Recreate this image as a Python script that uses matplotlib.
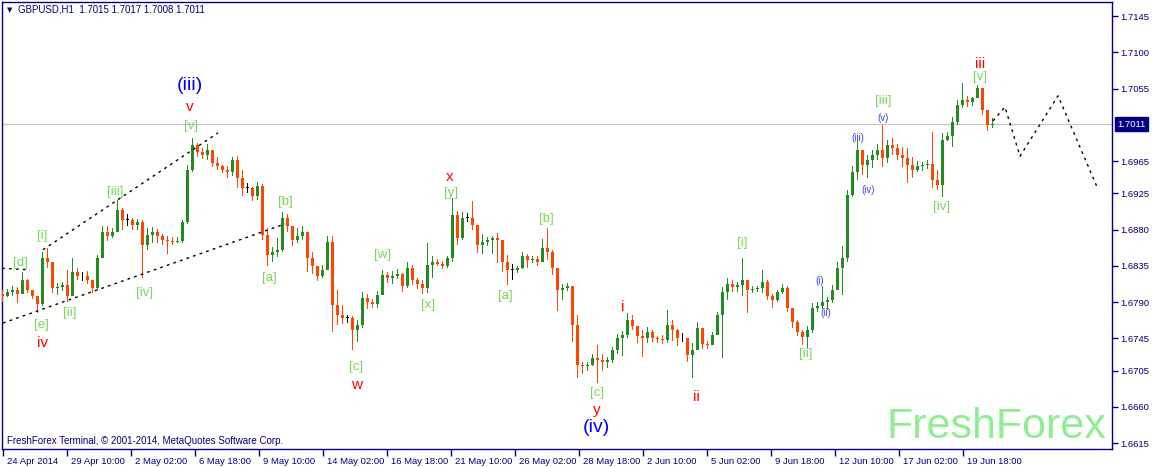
import numpy as np
import matplotlib.pyplot as plt
from matplotlib import transforms

# GBPUSD H1, 24 Apr - 20 Jun 2014 in blocks of 5 hours
block = 5
first_open = 1.6800
highs = [1.6805, 1.6806, 1.6810, 1.6809, 1.6827, 1.6819, 1.6805, 1.6798, 1.6852, 1.6857,
         1.6840, 1.6814, 1.6815, 1.6830, 1.6845, 1.6832, 1.6827, 1.6829, 1.6817, 1.6848,
         1.6884, 1.6884, 1.6882, 1.6917, 1.6907, 1.6899, 1.6894, 1.6893, 1.6892, 1.6882,
         1.6883, 1.6881, 1.6874, 1.6872, 1.6871, 1.6871, 1.6892, 1.6960, 1.6994, 1.6987,
         1.6981, 1.6986, 1.6979, 1.6970, 1.6960, 1.6959, 1.6970, 1.6971, 1.6954, 1.6938,
         1.6933, 1.6939, 1.6937, 1.6882, 1.6858, 1.6870, 1.6902, 1.6899, 1.6884, 1.6882,
         1.6884, 1.6877, 1.6852, 1.6835, 1.6836, 1.6872, 1.6872, 1.6805, 1.6786, 1.6774,
         1.6773, 1.6768, 1.6802, 1.6800, 1.6794, 1.6804, 1.6830, 1.6827, 1.6829, 1.6831,
         1.6826, 1.6840, 1.6836, 1.6820, 1.6817, 1.6863, 1.6847, 1.6843, 1.6841, 1.6847,
         1.6919, 1.6903, 1.6902, 1.6901, 1.6916, 1.6886, 1.6874, 1.6871, 1.6872, 1.6876,
         1.6867, 1.6848, 1.6837, 1.6835, 1.6852, 1.6850, 1.6847, 1.6847, 1.6868, 1.6882,
         1.6855, 1.6832, 1.6812, 1.6814, 1.6810, 1.6774, 1.6716, 1.6716, 1.6726, 1.6737,
         1.6726, 1.6722, 1.6734, 1.6750, 1.6754, 1.6776, 1.6774, 1.6760, 1.6755, 1.6759,
         1.6755, 1.6748, 1.6749, 1.6780, 1.6768, 1.6757, 1.6752, 1.6745, 1.6739, 1.6765,
         1.6758, 1.6742, 1.6753, 1.6778, 1.6809, 1.6820, 1.6817, 1.6815, 1.6845, 1.6817,
         1.6810, 1.6810, 1.6830, 1.6817, 1.6800, 1.6805, 1.6812, 1.6810, 1.6783, 1.6768,
         1.6755, 1.6760, 1.6789, 1.6790, 1.6810, 1.6796, 1.6811, 1.6840, 1.6860, 1.6929,
         1.6959, 1.6991, 1.6979, 1.6972, 1.6979, 1.6986, 1.7010, 1.6991, 1.6994, 1.6986,
         1.6982, 1.6981, 1.6970, 1.6965, 1.6964, 1.6966, 1.7001, 1.6954, 1.7000, 1.7001,
         1.7020, 1.7041, 1.7062, 1.7046, 1.7044, 1.7059, 1.7056, 1.7026, 1.7019]
lows = [1.6790, 1.6796, 1.6798, 1.6789, 1.6800, 1.6801, 1.6794, 1.6776, 1.6785, 1.6832,
        1.6801, 1.6799, 1.6804, 1.6790, 1.6798, 1.6817, 1.6816, 1.6812, 1.6801, 1.6805,
        1.6845, 1.6866, 1.6869, 1.6877, 1.6879, 1.6884, 1.6880, 1.6880, 1.6820, 1.6855,
        1.6863, 1.6863, 1.6861, 1.6850, 1.6861, 1.6863, 1.6863, 1.6887, 1.6951, 1.6970,
        1.6968, 1.6966, 1.6958, 1.6954, 1.6950, 1.6944, 1.6947, 1.6932, 1.6922, 1.6925,
        1.6916, 1.6917, 1.6867, 1.6835, 1.6840, 1.6846, 1.6852, 1.6877, 1.6860, 1.6863,
        1.6867, 1.6827, 1.6825, 1.6816, 1.6820, 1.6830, 1.6753, 1.6762, 1.6763, 1.6764,
        1.6730, 1.6740, 1.6758, 1.6781, 1.6783, 1.6783, 1.6799, 1.6814, 1.6812, 1.6819,
        1.6802, 1.6807, 1.6811, 1.6806, 1.6800, 1.6801, 1.6820, 1.6835, 1.6831, 1.6832,
        1.6840, 1.6861, 1.6867, 1.6889, 1.6880, 1.6851, 1.6850, 1.6860, 1.6850, 1.6839,
        1.6827, 1.6811, 1.6817, 1.6826, 1.6831, 1.6832, 1.6839, 1.6835, 1.6840, 1.6842,
        1.6824, 1.6779, 1.6793, 1.6804, 1.6741, 1.6696, 1.6701, 1.6705, 1.6711, 1.6690,
        1.6705, 1.6708, 1.6714, 1.6726, 1.6723, 1.6745, 1.6755, 1.6739, 1.6722, 1.6739,
        1.6741, 1.6739, 1.6738, 1.6739, 1.6742, 1.6736, 1.6741, 1.6716, 1.6696, 1.6731,
        1.6732, 1.6732, 1.6737, 1.6749, 1.6721, 1.6793, 1.6802, 1.6802, 1.6798, 1.6776,
        1.6801, 1.6802, 1.6801, 1.6793, 1.6783, 1.6790, 1.6800, 1.6778, 1.6758, 1.6748,
        1.6737, 1.6733, 1.6752, 1.6778, 1.6781, 1.6780, 1.6789, 1.6805, 1.6799, 1.6840,
        1.6920, 1.6942, 1.6948, 1.6944, 1.6956, 1.6966, 1.6958, 1.6963, 1.6972, 1.6966,
        1.6958, 1.6938, 1.6944, 1.6951, 1.6953, 1.6955, 1.6932, 1.6929, 1.6920, 1.6990,
        1.6983, 1.7010, 1.7031, 1.7032, 1.7033, 1.7043, 1.7022, 1.7002, 1.7006]
closes = [1.6798, 1.6802, 1.6805, 1.6800, 1.6817, 1.6805, 1.6798, 1.6788, 1.6845, 1.6840,
          1.6807, 1.6809, 1.6811, 1.6798, 1.6827, 1.6822, 1.6822, 1.6817, 1.6807, 1.6845,
          1.6877, 1.6872, 1.6877, 1.6904, 1.6892, 1.6892, 1.6886, 1.6889, 1.6861, 1.6873,
          1.6877, 1.6872, 1.6867, 1.6866, 1.6865, 1.6866, 1.6889, 1.6954, 1.6985, 1.6976,
          1.6973, 1.6979, 1.6963, 1.6959, 1.6954, 1.6951, 1.6966, 1.6944, 1.6932, 1.6932,
          1.6922, 1.6934, 1.6873, 1.6848, 1.6852, 1.6855, 1.6894, 1.6884, 1.6867, 1.6872,
          1.6877, 1.6845, 1.6835, 1.6822, 1.6830, 1.6865, 1.6786, 1.6774, 1.6770, 1.6770,
          1.6755, 1.6762, 1.6795, 1.6790, 1.6788, 1.6799, 1.6824, 1.6820, 1.6822, 1.6825,
          1.6810, 1.6832, 1.6817, 1.6812, 1.6807, 1.6836, 1.6840, 1.6837, 1.6835, 1.6845,
          1.6898, 1.6870, 1.6894, 1.6894, 1.6886, 1.6861, 1.6865, 1.6867, 1.6870, 1.6867,
          1.6840, 1.6830, 1.6830, 1.6832, 1.6847, 1.6842, 1.6843, 1.6840, 1.6857, 1.6852,
          1.6832, 1.6805, 1.6807, 1.6810, 1.6762, 1.6712, 1.6711, 1.6712, 1.6721, 1.6718,
          1.6716, 1.6718, 1.6731, 1.6745, 1.6749, 1.6768, 1.6760, 1.6748, 1.6745, 1.6753,
          1.6745, 1.6744, 1.6743, 1.6762, 1.6755, 1.6745, 1.6745, 1.6724, 1.6731, 1.6758,
          1.6738, 1.6737, 1.6749, 1.6774, 1.6802, 1.6812, 1.6809, 1.6811, 1.6817, 1.6805,
          1.6806, 1.6807, 1.6815, 1.6798, 1.6793, 1.6802, 1.6807, 1.6783, 1.6765, 1.6753,
          1.6747, 1.6755, 1.6783, 1.6785, 1.6790, 1.6793, 1.6805, 1.6832, 1.6845, 1.6923,
          1.6951, 1.6979, 1.6960, 1.6966, 1.6972, 1.6979, 1.6969, 1.6985, 1.6981, 1.6972,
          1.6969, 1.6960, 1.6954, 1.6959, 1.6960, 1.6961, 1.6942, 1.6935, 1.6991, 1.6996,
          1.7014, 1.7035, 1.7041, 1.7038, 1.7043, 1.7056, 1.7028, 1.7010, 1.7011]

# axis labels (bar index -> date), price scale
date_ticks = [0, 64, 128, 192, 256, 320, 384, 448, 512, 576, 640, 704, 768, 832, 896, 960]
date_labels = ["24 Apr 2014", "29 Apr 10:00", "2 May 02:00", "6 May 18:00", "9 May 10:00",
               "14 May 02:00", "16 May 18:00", "21 May 10:00", "26 May 02:00", "28 May 18:00",
               "2 Jun 10:00", "5 Jun 02:00", "9 Jun 18:00", "12 Jun 10:00", "17 Jun 02:00",
               "19 Jun 18:00"]
price_ticks = [1.7145, 1.7100, 1.7055, 1.6965, 1.6925, 1.6880, 1.6835, 1.6790, 1.6745,
               1.6705, 1.6660, 1.6615]
last_price = 1.7011

# hand drawn lines: (bar, price) points
channel_top = [(40, 1.6855), (215, 1.7000)]
channel_bottom = [(0, 1.6764), (282, 1.6887)]
d_line = [(-1, 1.6832), (27, 1.6830)]
forecast = [(990, 1.7015), (1002, 1.7032), (1017, 1.6971), (1055, 1.7046), (1094, 1.6933)]

# wave marks: text, bar, price
green_marks = [("[v]", 188, 1.7009), ("[iii]", 112, 1.6927), ("[i]", 39, 1.6872),
               ("[d]", 17, 1.6839), ("[e]", 38, 1.6762), ("[ii]", 67, 1.6777),
               ("[iv]", 142, 1.6801), ("[b]", 282, 1.6914), ("[a]", 266, 1.6820),
               ("[c]", 353, 1.6710), ("[w]", 380, 1.6848), ("[x]", 425, 1.6786),
               ("[y]", 448, 1.6925), ("[a]", 502, 1.6798), ("[b]", 543, 1.6893),
               ("[c]", 594, 1.6677), ("[i]", 739, 1.6863), ("[ii]", 803, 1.6726),
               ("[iii]", 880, 1.7040), ("[iv]", 939, 1.6908), ("[v]", 977, 1.7069)]
red_marks = [("v", 187, 1.7032), ("iv", 39, 1.6739), ("w", 354, 1.6687), ("x", 447, 1.6945),
             ("y", 594, 1.6656), ("i", 620, 1.6784), ("ii", 693, 1.6672), ("iii", 977, 1.7086)]
blue_big = [("(iii)", 187, 1.7059), ("(iv)", 593, 1.6635)]
blue_small = [("(i)", 817, 1.6816), ("(ii)", 823, 1.6777), ("(iii)", 855, 1.6994),
              ("(iv)", 865, 1.6929), ("(v)", 880, 1.7019)]

navy = '#000080'
up_col = '#228B22'
down_col = '#FF4500'
green_txt = '#72DA55'
ui_font = 'Liberation Sans'

W, H = 1152, 467
fig = plt.figure(figsize=(W / 100, H / 100), dpi=100)
ax = fig.add_axes([2 / W, (H - 449) / H, 1110 / W, 447 / H])
ax.set_xlim(-1, 1109)
ax.set_ylim(1.66077, 1.71624)

# bars: range as a thin stick, open-close as a slightly wider body
n = len(closes)
xs = np.arange(n) * block + block / 2 - 3
opens = np.array([first_open] + closes[:-1])
c = np.array(closes)
hi = np.maximum(np.array(highs), np.maximum(opens, c))
lo = np.minimum(np.array(lows), np.minimum(opens, c))
cols = np.where(c > opens, up_col, np.where(c < opens, down_col, 'black'))
ax.bar(xs, hi - lo, bottom=lo, width=1.5, color=cols, linewidth=0, zorder=3)
body_lo = np.minimum(opens, c)
body_h = np.maximum(np.abs(c - opens), 0.0001)
ax.bar(xs, body_h, bottom=body_lo, width=3.3, color=cols, linewidth=0, zorder=3)

# current price line
ax.axhline(last_price, color='#C8C8C8', linewidth=1, zorder=1)

# dotted lines
for pts in [channel_top, channel_bottom, d_line, forecast]:
    px, py = zip(*pts)
    ax.plot(px, py, color='black', linewidth=1, linestyle=(0, (2, 3)), zorder=4)

# wave labels
for t, x, y in green_marks:
    ax.text(x, y, t, color=green_txt, fontsize=9.5, ha='center', va='center',
            family='Liberation Sans', zorder=5)
for t, x, y in red_marks:
    ax.text(x, y, t, color='red', fontsize=11, ha='center', va='center',
            family='Liberation Sans', zorder=5)
for t, x, y in blue_big:
    ax.text(x, y, t, color='#0000FF', fontsize=14, ha='center', va='center',
            family='Liberation Sans', zorder=5)
for t, x, y in blue_small:
    ax.text(x, y, t, color='#4040FF', fontsize=7, ha='center', va='center',
            family='Liberation Sans', zorder=5)

# watermark
ax.text(0.8955, (449 - 438) / 447, 'FreshForex', transform=ax.transAxes, color='#90EE90',
        fontsize=31, family='Liberation Sans', ha='center', va='baseline', zorder=0)

# axes styling
for s in ax.spines.values():
    s.set_color(navy)
    s.set_linewidth(1)
ax.yaxis.tick_right()
ax.set_yticks(price_ticks)
ax.set_yticklabels([f'{p:.4f}' for p in price_ticks], family=ui_font)
ax.tick_params(axis='y', direction='out', length=4, width=1, color=navy,
               labelcolor=navy, labelsize=6.8, pad=2)
ax.set_xticks(date_ticks)
ax.set_xticklabels(date_labels, family=ui_font)
ax.tick_params(axis='x', direction='out', length=5, width=1, color=navy,
               labelcolor=navy, labelsize=6.8, pad=1)
shift = transforms.ScaledTranslation(4 / 100, 0, fig.dpi_scale_trans)
for lab in ax.get_xticklabels():
    lab.set_ha('left')
    lab.set_transform(lab.get_transform() + shift)

# last price box
trans = transforms.blended_transform_factory(ax.transAxes, ax.transData)
ax.text(1.0 + 5 / 1110, last_price, f'{last_price:.4f}', transform=trans, color='white',
        fontsize=6.8, family=ui_font, ha='left', va='center',
        bbox=dict(facecolor=navy, edgecolor=navy, pad=1.6), zorder=6, clip_on=False)

# header and copyright
fig.text(7 / W, 1 - 10 / H, '\u25BC', color=navy, fontsize=5, ha='left', va='center')
fig.text(18 / W, 1 - 10 / H, 'GBPUSD,H1  1.7015 1.7017 1.7008 1.7011', color=navy,
         fontsize=7, family=ui_font, ha='left', va='center')
fig.text(7 / W, 1 - 441 / H, 'FreshForex Terminal, \u00A9 2001-2014, MetaQuotes Software Corp.',
         color=navy, fontsize=7, family=ui_font, ha='left', va='center')

fig.savefig('out.png', dpi=100)
